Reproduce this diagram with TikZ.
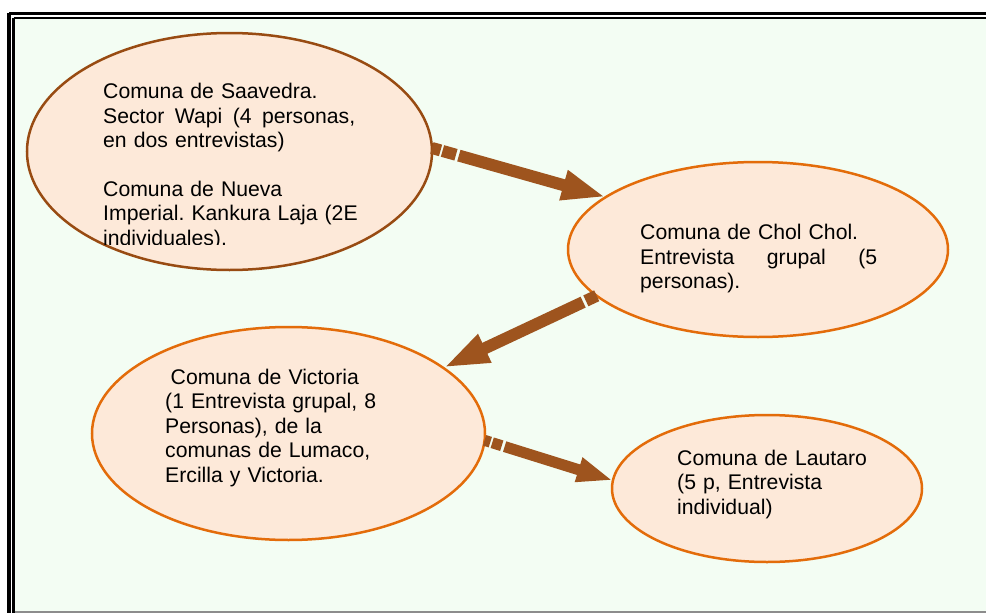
\documentclass[tikz,border=0pt]{standalone}
\usepackage{fontspec}
\setmainfont{Liberation Sans}
\usetikzlibrary{shapes.geometric,arrows.meta}
\frenchspacing
\definecolor{bgc}{RGB}{243,253,243}
\definecolor{bubblefill}{RGB}{253,233,217}
\definecolor{savc}{RGB}{152,75,18}
\definecolor{orc}{RGB}{227,108,10}
\definecolor{arrc}{RGB}{158,84,30}
\definecolor{framegray}{RGB}{140,140,140}
\newcommand{\jline}[2]{\leavevmode\hbox to #1{#2}}
\tikzset{
  bubble/.style={ellipse, fill=bubblefill, line width=2.5pt, inner sep=0pt, outer sep=0pt},
  txt/.style={anchor=base west, inner sep=0pt, text width=300pt, align=left,
    font=\fontsize{21.2}{24.5}\selectfont\frenchspacing},
  blockarrow/.style={line width=12pt, draw=arrc},
}
\begin{document}
\begin{tikzpicture}[x=1pt,y=-1pt]
\useasboundingbox (0,0) rectangle (986,613);
\clip (0,0) rectangle (986,613);
\fill[white] (0,0) rectangle (986,613);
\fill[bgc] (13.5,18.5) rectangle (990,612);
% frame
\draw[black, line width=2.8pt] (9,13.3) -- (1000,13.3);
\draw[black, line width=3.2pt] (9,13.3) -- (9,640);
\draw[black, line width=2pt] (13.5,18.3) -- (1000,18.3);
\draw[black, line width=2.3pt] (13.5,18.3) -- (13.5,640);
\draw[framegray, line width=2pt] (14.6,612) -- (1000,612);
% bubbles
\node[bubble, draw=savc, minimum width=405pt, minimum height=237pt] (sav) at (229.5,151.5) {};
\node[bubble, draw=orc, minimum width=380pt, minimum height=175pt] (chol) at (758,249.5) {};
\node[bubble, draw=orc, minimum width=393pt, minimum height=213pt] (vic) at (288.5,433.5) {};
\node[bubble, draw=orc, minimum width=310pt, minimum height=147pt] (lau) at (767,488.5) {};
% texts
\begin{scope}
\clip (0,0) rectangle (986,244.5);
\node[txt] (savt) at (103,98.5) {Comuna de Saavedra.\\
\jline{252pt}{Sector\hfill Wapi\hfill (4\hfill personas,}\\
en dos entrevistas)\\[24.5pt]
Comuna de Nueva\\
Imperial. Kankura Laja (2E\\
individuales).};
\end{scope}
\node[txt] (cholt) at (640,239.5) {Comuna de Chol Chol.\\
\jline{237pt}{Entrevista\hfill grupal\hfill (5}\\
personas).};
\node[txt] (vict) at (165,384) {\hspace*{5.5pt}Comuna de Victoria\\
(1 Entrevista grupal, 8\\
Personas), de la\\
comunas de Lumaco,\\
Ercilla y Victoria.};
\node[txt] (laut) at (677,465) {Comuna de Lautaro\\
(5 p, Entrevista\\
individual)};
% arrows
\draw[blockarrow, dash pattern=on 9pt off 2pt on 14pt off 3pt on 500pt off 1pt,
  -{Triangle[length=44pt,width=28pt]}] (sav.1.5) -- (chol.161.5);
\draw[blockarrow, dash pattern=on 12pt off 3pt on 500pt off 1pt,
  -{Triangle[length=46pt,width=28pt]}] (chol.196.3) -- (vic.23.9);
\draw[blockarrow, line width=11pt, dash pattern=on 6pt off 2pt on 10pt off 3pt on 500pt off 1pt,
  -{Triangle[length=36pt,width=23pt]}] (vic.-2.2) -- (lau.177.2);
\end{tikzpicture}
\end{document}
